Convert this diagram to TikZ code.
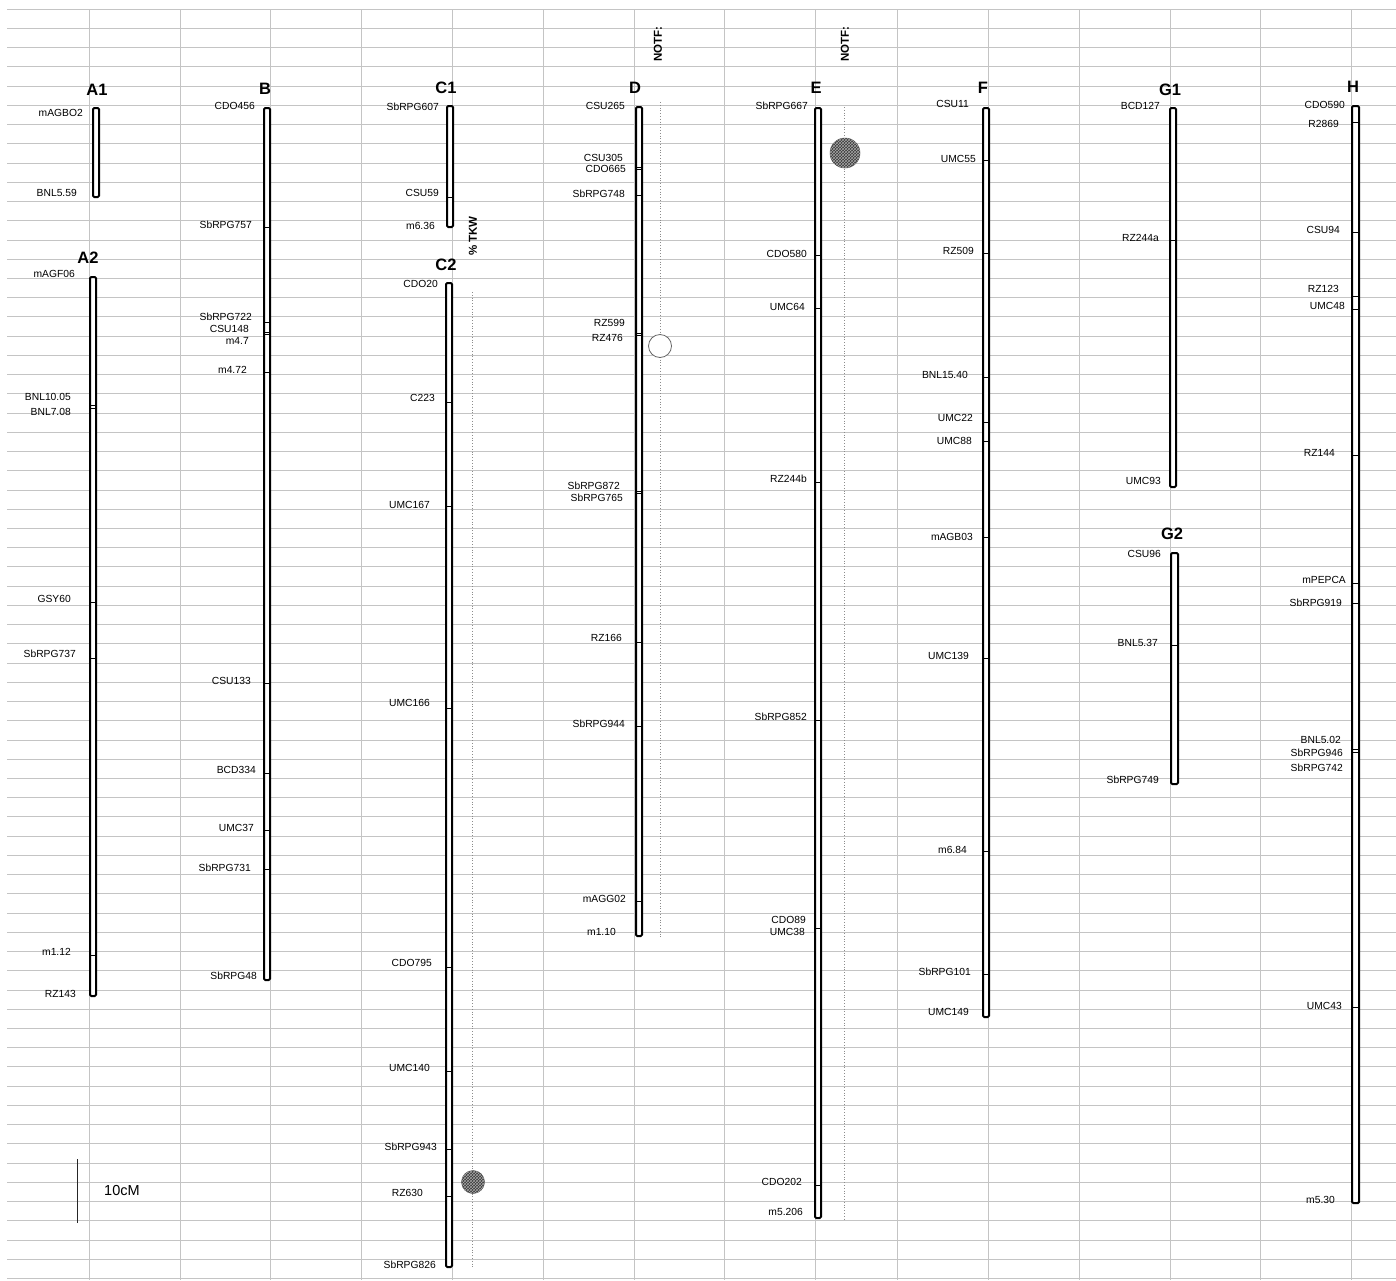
\documentclass[tikz,border=0pt]{standalone}
\usepackage{fontspec}
\setmainfont{Liberation Sans}
\usetikzlibrary{patterns}
\newcommand\mylab{\fontsize{10.3}{12}\selectfont}
\newcommand\myttl{\fontsize{16.5}{18}\selectfont\bfseries}
\newcommand\myrot{\fontsize{11.5}{13}\selectfont\bfseries}
\newcommand\lbl[4]{\node[lab] (#1) at (#2,#3) {#4};}
\begin{document}
\begin{tikzpicture}[x=1pt,y=-1pt,
  gridln/.style={draw=black!23, line width=1pt},
  chrbar/.style={draw=black, line width=2pt, fill=white, rounded corners=1.2pt},
  mtick/.style={draw=black, line width=0.9pt},
  lab/.style={anchor=east, inner sep=0pt, font=\mylab},
  ttl/.style={inner sep=0pt, font=\myttl},
  rottxt/.style={rotate=90, inner sep=0pt, font=\myrot},
  qtl/.style={draw=black!45, dotted, line width=0.8pt},
  hatchdot/.style={circle, inner sep=0pt, draw=black!70, line width=0.5pt, fill=black!78,
     postaction={pattern=crosshatch, pattern color=black!35}}
]
\useasboundingbox (0,0) rectangle (1396,1280);
\fill[white] (0,0) rectangle (1396,1280);
% grid
\foreach \k in {0,...,66} \draw[gridln] (7,{9.3+19.23*\k}) -- (1396,{9.3+19.23*\k});
\foreach \x in {89,180,270.5,361.7,452,543,634,724.3,815.7,897,988.7,1079,1170,1260.3,1351.3}
  \draw[gridln] (\x,9.3) -- (\x,1280);
% QTL dotted lines
\draw[qtl] (472.7,292) -- (472.7,1268);
\draw[qtl] (660,102) -- (660,937);
\draw[qtl] (844,107) -- (844,1220);
% A1
\draw[chrbar] (93,108) rectangle (99,197);
\node[ttl] (tA1) at (97,90) {A1};
\lbl{a1a}{83}{113}{mAGBO2}
\lbl{a1b}{77}{193}{BNL5.59}
% A2
\draw[chrbar] (90,277) rectangle (96,996);
\foreach \y in {405,408,602,658,955} \draw[mtick] (90,\y) -- (96,\y);
\node[ttl] (tA2) at (88,258) {A2};
\lbl{a2a}{75}{274}{mAGF06}
\lbl{a2b}{71}{397}{BNL10.05}
\lbl{a2c}{71}{412}{BNL7.08}
\lbl{a2d}{71}{599}{GSY60}
\lbl{a2e}{76}{654}{SbRPG737}
\lbl{a2f}{71}{952}{m1.12}
\lbl{a2g}{76}{994}{RZ143}
% B
\draw[chrbar] (264,108) rectangle (270,980);
\foreach \y in {227,322,332,334,372,683,773,830,869} \draw[mtick] (264,\y) -- (270,\y);
\node[ttl] (tB) at (265,89) {B};
\lbl{ba}{255}{106}{CDO456}
\lbl{bb}{252}{225}{SbRPG757}
\lbl{bc}{252}{317}{SbRPG722}
\lbl{bd}{249}{329}{CSU148}
\lbl{be}{249}{341}{m4.7}
\lbl{bf}{247}{370}{m4.72}
\lbl{bg}{251}{681}{CSU133}
\lbl{bh}{256}{770}{BCD334}
\lbl{bi}{254}{828}{UMC37}
\lbl{bj}{251}{868}{SbRPG731}
\lbl{bk}{257}{976}{SbRPG48}
% C1
\draw[chrbar] (447,106) rectangle (453,227);
\draw[mtick] (447,197) -- (453,197);
\node[ttl] (tC1) at (446,88) {C1};
\lbl{c1a}{439}{107}{SbRPG607}
\lbl{c1b}{439}{193}{CSU59}
\lbl{c1c}{435}{226}{m6.36}
% C2
\draw[chrbar] (446,283) rectangle (452,1267);
\foreach \y in {402,506,708,967,1071,1149,1196} \draw[mtick] (446,\y) -- (452,\y);
\node[ttl] (tC2) at (446,265) {C2};
\lbl{c2a}{438}{284}{CDO20}
\lbl{c2b}{435}{398}{C223}
\lbl{c2c}{430}{505}{UMC167}
\lbl{c2d}{430}{703}{UMC166}
\lbl{c2e}{432}{963}{CDO795}
\lbl{c2f}{430}{1068}{UMC140}
\lbl{c2g}{437}{1147}{SbRPG943}
\lbl{c2h}{423}{1193}{RZ630}
\lbl{c2i}{436}{1265}{SbRPG826}
% D
\draw[chrbar] (636,107) rectangle (642,936);
\foreach \y in {167,169.5,195,333,335.5,491,493,642,726,901} \draw[mtick] (636,\y) -- (642,\y);
\node[ttl] (tD) at (635,88) {D};
\lbl{da}{625}{106}{CSU265}
\lbl{db}{623}{158}{CSU305}
\lbl{dc}{626}{169}{CDO665}
\lbl{dd}{625}{194}{SbRPG748}
\lbl{de}{625}{323}{RZ599}
\lbl{df}{623}{338}{RZ476}
\lbl{dg}{620}{486}{SbRPG872}
\lbl{dh}{623}{498}{SbRPG765}
\lbl{di}{622}{638}{RZ166}
\lbl{dj}{625}{724}{SbRPG944}
\lbl{dk}{626}{899}{mAGG02}
\lbl{dl}{616}{932}{m1.10}
% E
\draw[chrbar] (815,108) rectangle (821,1218);
\foreach \y in {255,308,482,720,928,1185} \draw[mtick] (815,\y) -- (821,\y);
\node[ttl] (tE) at (816,88) {E};
\lbl{ea}{808}{106}{SbRPG667}
\lbl{eb}{807}{254}{CDO580}
\lbl{ec}{805}{307}{UMC64}
\lbl{ed}{807}{479}{RZ244b}
\lbl{ee}{807}{717}{SbRPG852}
\lbl{ef}{806}{920}{CDO89}
\lbl{eg}{805}{932}{UMC38}
\lbl{eh}{802}{1182}{CDO202}
\lbl{ei}{803}{1212}{m5.206}
% F
\draw[chrbar] (983,108) rectangle (989,1017);
\foreach \y in {160,253,377,422,441,537,658,851,974} \draw[mtick] (983,\y) -- (989,\y);
\node[ttl] (tF) at (983,88) {F};
\lbl{fa}{969}{104}{CSU11}
\lbl{fb}{976}{159}{UMC55}
\lbl{fc}{974}{251}{RZ509}
\lbl{fd}{968}{375}{BNL15.40}
\lbl{fe}{973}{418}{UMC22}
\lbl{ff}{972}{441}{UMC88}
\lbl{fg}{973}{537}{mAGB03}
\lbl{fh}{969}{656}{UMC139}
\lbl{fi}{967}{850}{m6.84}
\lbl{fj}{971}{972}{SbRPG101}
\lbl{fk}{969}{1012}{UMC149}
% G1
\draw[chrbar] (1170,108) rectangle (1176,487);
\draw[mtick] (1170,240) -- (1176,240);
\node[ttl] (tG1) at (1170,90) {G1};
\lbl{g1a}{1160}{106}{BCD127}
\lbl{g1b}{1159}{238}{RZ244a}
\lbl{g1c}{1161}{481}{UMC93}
% G2
\draw[chrbar] (1171,553) rectangle (1178,784);
\draw[mtick] (1171,645) -- (1178,645);
\node[ttl] (tG2) at (1172,534) {G2};
\lbl{g2a}{1161}{554}{CSU96}
\lbl{g2b}{1158}{643}{BNL5.37}
\lbl{g2c}{1159}{780}{SbRPG749}
% H
\draw[chrbar] (1352,106) rectangle (1359,1203);
\foreach \y in {122,232,296,309,455,583,603,749,752,1007} \draw[mtick] (1352,\y) -- (1359,\y);
\node[ttl] (tH) at (1353,87) {H};
\lbl{ha}{1345}{105}{CDO590}
\lbl{hb}{1339}{124}{R2869}
\lbl{hc}{1340}{230}{CSU94}
\lbl{hd}{1339}{289}{RZ123}
\lbl{he}{1345}{306}{UMC48}
\lbl{hf}{1335}{453}{RZ144}
\lbl{hg}{1346}{580}{mPEPCA}
\lbl{hh}{1342}{603}{SbRPG919}
\lbl{hi}{1341}{740}{BNL5.02}
\lbl{hj}{1343}{753}{SbRPG946}
\lbl{hk}{1343}{768}{SbRPG742}
\lbl{hl}{1342}{1006}{UMC43}
\lbl{hm}{1335}{1200}{m5.30}
% rotated trait labels
\node[rottxt] (nD) at (658,44) {NOTF:};
\node[rottxt] (nE) at (845,44) {NOTF:};
\node[rottxt] (tkw) at (473,236) {\% TKW};
% QTL symbols
\node[hatchdot, minimum size=30pt] (qE) at (845,153) {};
\node[circle, inner sep=0pt, minimum size=23pt, draw=black!60, line width=0.8pt, fill=white] (qD) at (660,346) {};
\node[hatchdot, minimum size=23pt] (qC) at (473,1182) {};
% scale bar
\coordinate (sb1) at (77.7,1159);
\coordinate (sb2) at (77.7,1223);
\draw[line width=1pt, black!85] (sb1) -- (sb2);
\node[anchor=west, inner sep=0pt, font=\fontsize{14.5}{16}\selectfont] (sbl) at (104,1190) {10cM};
\end{tikzpicture}
\end{document}
